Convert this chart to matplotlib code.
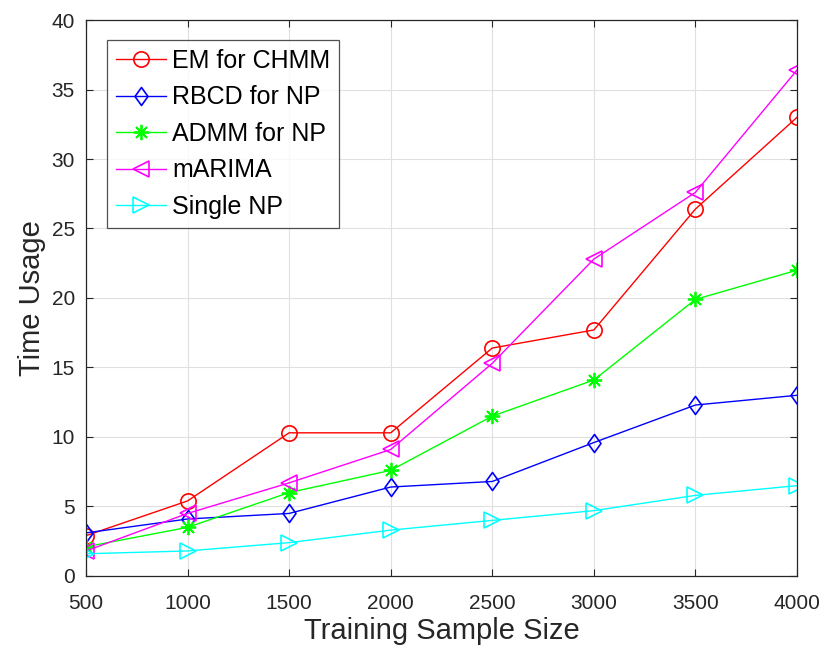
import numpy as np
import matplotlib.pyplot as plt
from matplotlib.path import Path

plt.rcParams['font.family'] = ['Liberation Sans', 'DejaVu Sans']

sample_size = [500, 1000, 1500, 2000, 2500, 3000, 3500, 4000]
em_chmm = [2.9, 5.4, 10.3, 10.3, 16.4, 17.7, 26.4, 33.0]
rbcd_np = [3.1, 4.1, 4.5, 6.4, 6.8, 9.6, 12.3, 13.0]
admm_np = [2.1, 3.5, 6.0, 7.6, 11.5, 14.1, 19.9, 22.0]
marima = [1.8, 4.5, 6.7, 9.1, 15.3, 22.8, 27.6, 36.4]
single_np = [1.6, 1.8, 2.4, 3.3, 4.0, 4.7, 5.8, 6.5]

# matlab style diamond (a bit wider than mpl 'd')
diamond = Path([(0, 1), (0.72, 0), (0, -1), (-0.72, 0), (0, 1)],
               [Path.MOVETO, Path.LINETO, Path.LINETO, Path.LINETO, Path.CLOSEPOLY])

fig = plt.figure(figsize=(8.22, 6.54), dpi=100)
ax = fig.add_axes([0.1046, 0.1193, 0.865, 0.8501])

kw = dict(lw=1, mew=1.2, mfc='none')
ax.plot(sample_size, em_chmm, color='#ff0000', marker='o', ms=11, label='EM for CHMM', **kw)
ax.plot(sample_size, rbcd_np, color='#0000ff', marker=diamond, ms=13, label='RBCD for NP', **kw)
ax.plot(sample_size, admm_np, color='#00ff00', marker=(8, 2, 0), ms=11, lw=1, mew=1.3, label='ADMM for NP')
ax.plot(sample_size, marima, color='#ff00ff', marker='<', ms=12, label='mARIMA', **kw)
ax.plot(sample_size, single_np, color='#00ffff', marker='>', ms=12, label='Single NP', **kw)

ax.set_xlim(500, 4000)
ax.set_ylim(0, 40)
ax.set_xticks(sample_size)
ax.set_yticks(np.arange(0, 41, 5))
ax.tick_params(direction='in', labelsize=15, length=5, top=True, right=True,
               colors='#262626', pad=8)
ax.tick_params(axis='x', pad=13)
ax.grid(True, color='#e0e0e0', lw=0.8)
ax.set_axisbelow(True)
for s in ax.spines.values():
    s.set_color('#262626')
    s.set_linewidth(0.9)

ax.set_xlabel('Training Sample Size', fontsize=21, color='#262626', labelpad=3)
ax.set_ylabel('Time Usage', fontsize=21, color='#262626', labelpad=4)

leg = ax.legend(loc='upper left', fontsize=18, fancybox=False, edgecolor='#262626',
                borderpad=0.35, labelspacing=0.5, handlelength=2.0, handletextpad=0.25,
                borderaxespad=0, bbox_to_anchor=(0.0295, 0.964))
leg.get_frame().set_linewidth(0.9)

plt.savefig('out.png')
